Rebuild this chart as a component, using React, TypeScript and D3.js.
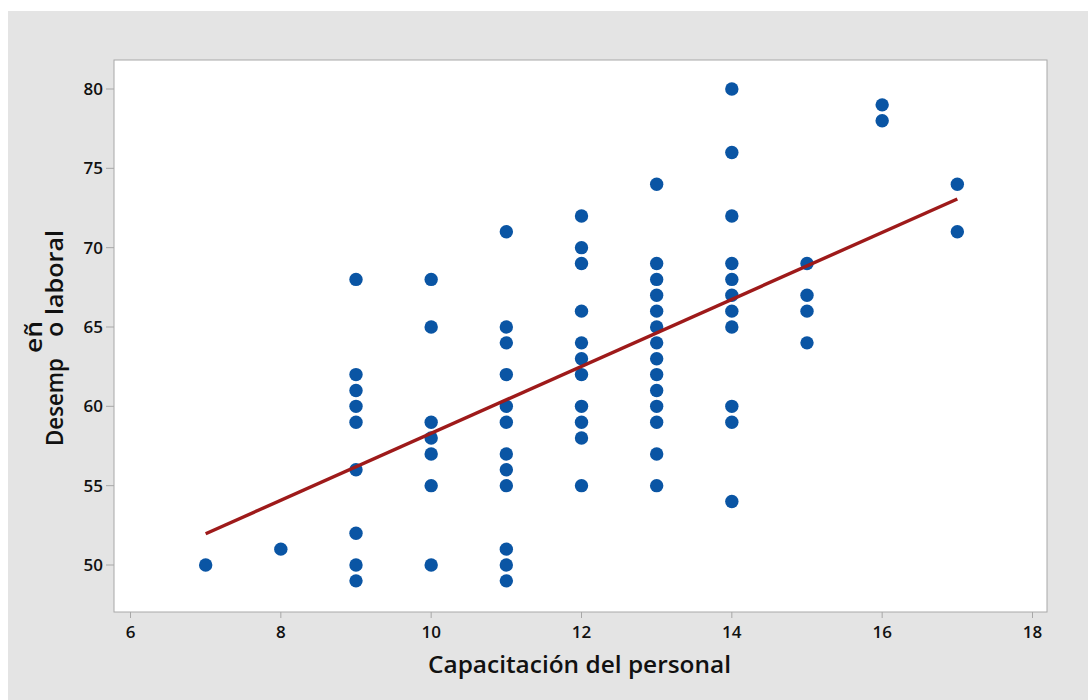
import React from "react";
import * as d3 from "d3";

// ---- data ----
const capacitacion: number[] = [
  7,
  8,
  9, 9, 9, 9, 9, 9, 9, 9, 9,
  10, 10, 10, 10, 10, 10, 10,
  11, 11, 11, 11, 11, 11, 11, 11, 11, 11, 11, 11,
  12, 12, 12, 12, 12, 12, 12, 12, 12, 12, 12,
  13, 13, 13, 13, 13, 13, 13, 13, 13, 13, 13, 13, 13, 13,
  14, 14, 14, 14, 14, 14, 14, 14, 14, 14, 14,
  15, 15, 15, 15,
  16, 16,
  17, 17,
];
const desempeno: number[] = [
  50,
  51,
  68, 62, 61, 60, 59, 56, 52, 50, 49,
  68, 65, 59, 58, 57, 55, 50,
  71, 65, 64, 62, 60, 59, 57, 56, 55, 51, 50, 49,
  72, 70, 69, 66, 64, 63, 62, 60, 59, 58, 55,
  74, 69, 68, 67, 66, 65, 64, 63, 62, 61, 60, 59, 57, 55,
  80, 76, 72, 69, 68, 67, 66, 65, 60, 59, 54,
  69, 67, 66, 64,
  79, 78,
  74, 71,
];
const fitIntercept = 37.2;
const fitSlope = 2.11;
const xTicks: number[] = [6, 8, 10, 12, 14, 16, 18];
const yTicks: number[] = [50, 55, 60, 65, 70, 75, 80];
const xTitle = "Capacitación del personal";
const yTitleParts = ["Desemp", "eñ", "o laboral"];

export default function App() {
  const W = 1088;
  const H = 700;
  const plot = { left: 114, top: 60, right: 1047, bottom: 612 };
  const x = d3.scaleLinear().domain([6, 18]).range([130.5, 1032.5]);
  const y = d3.scaleLinear().domain([50, 80]).range([565, 89]);

  const xMin = d3.min(capacitacion) as number;
  const xMax = d3.max(capacitacion) as number;
  const fitData: [number, number][] = [xMin, xMax].map((v) => [v, fitIntercept + fitSlope * v]);
  const line = d3
    .line<[number, number]>()
    .x((d) => x(d[0]))
    .y((d) => y(d[1]));

  const font = "'Open Sans', 'Noto Sans', sans-serif";
  const tickColor = "#a8a8a8";

  return (
    <svg
      width={W}
      height={H}
      style={{ position: "absolute", left: 0, top: 0, background: "#ffffff" }}
      fontFamily={font}
    >
      <rect x={8} y={11} width={W - 8} height={H - 11} fill="#e4e4e4" />
      <rect
        x={plot.left}
        y={plot.top}
        width={plot.right - plot.left}
        height={plot.bottom - plot.top}
        fill="#ffffff"
        stroke="#a8a8a8"
        strokeWidth={1}
      />

      {/* x axis */}
      {xTicks.map((t) => (
        <g key={"xt" + t}>
          <line x1={x(t)} x2={x(t)} y1={plot.bottom} y2={plot.bottom + 6} stroke={tickColor} />
          <text x={x(t)} y={638} textAnchor="middle" fontSize={17} fontWeight={600} fill="#111">
            {t}
          </text>
        </g>
      ))}
      {/* y axis */}
      {yTicks.map((t) => (
        <g key={"yt" + t}>
          <line x1={plot.left - 8} x2={plot.left} y1={y(t)} y2={y(t)} stroke={tickColor} />
          <text x={103} y={y(t) + 6} textAnchor="end" fontSize={17} fontWeight={600} fill="#111">
            {t}
          </text>
        </g>
      ))}

      {/* points */}
      {capacitacion.map((cx, i) => (
        <circle key={"p" + i} cx={x(cx)} cy={y(desempeno[i])} r={6.7} fill="#0a55a4" />
      ))}

      {/* fitted line */}
      <path d={line(fitData) || ""} fill="none" stroke="#9e1a1a" strokeWidth={3.4} />

      {/* axis titles */}
      <text
        x={428}
        y={673}
        fontSize={24}
        fontWeight={600}
        fill="#111"
        textLength={303}
        lengthAdjust="spacingAndGlyphs"
      >
        {xTitle}
      </text>
      <g transform="translate(63,446) rotate(-90)">
        <text x={0} y={0} fontSize={24} fontWeight={600} fill="#111" textLength={88} lengthAdjust="spacingAndGlyphs">
          {yTitleParts[0]}
        </text>
        <text x={93} y={-21} fontSize={24} fontWeight={600} fill="#111" textLength={32} lengthAdjust="spacingAndGlyphs">
          {yTitleParts[1]}
        </text>
        <text x={109} y={0} fontSize={24} fontWeight={600} fill="#111" textLength={107} lengthAdjust="spacingAndGlyphs">
          {yTitleParts[2]}
        </text>
      </g>
    </svg>
  );
}
